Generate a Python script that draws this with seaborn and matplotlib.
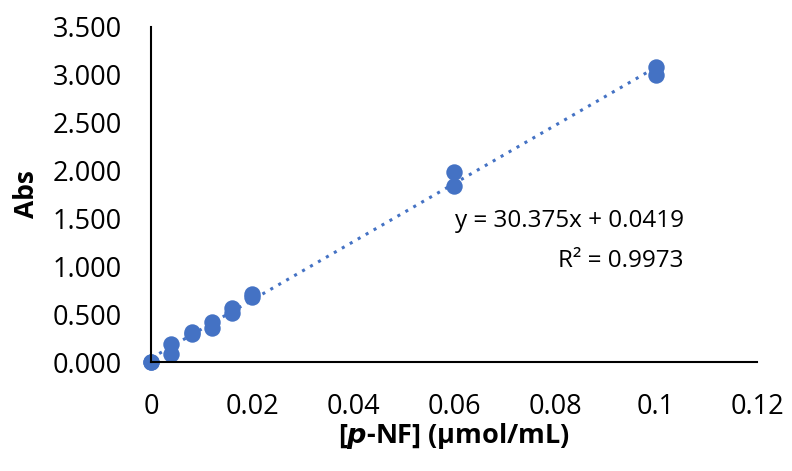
import numpy as np
import pandas as pd
import matplotlib
matplotlib.use("Agg")
import matplotlib.pyplot as plt
import seaborn as sns

conc = [0, 0, 0.004, 0.004, 0.008, 0.008, 0.012, 0.012, 0.016, 0.016, 0.02, 0.02, 0.06, 0.06, 0.1, 0.1]
absorb = [0.0, 0.005, 0.09, 0.19, 0.29, 0.31, 0.36, 0.42, 0.51, 0.57, 0.68, 0.71, 1.84, 1.99, 3.00, 3.08]
eq_text = "y = 30.375x + 0.0419"
r2_text = "R² = 0.9973"
xticks = [0, 0.02, 0.04, 0.06, 0.08, 0.1, 0.12]
xticklabels = ["0", "0.02", "0.04", "0.06", "0.08", "0.1", "0.12"]
yticks = [0, 0.5, 1.0, 1.5, 2.0, 2.5, 3.0, 3.5]

sns.set_theme(style="white")
plt.rcParams['font.family'] = ['Open Sans', 'DejaVu Sans']
plt.rcParams['text.color'] = 'black'
plt.rcParams['axes.labelcolor'] = 'black'

df = pd.DataFrame({"conc": conc, "abs": absorb})
color = "#4472C4"

fig = plt.figure(figsize=(7.92, 4.71), dpi=100)
ax = fig.add_axes([0.191, 0.231, 0.765, 0.712])

slope, intercept = np.polyfit(df["conc"], df["abs"], 1)
xl = np.array([0.0, 0.1])
ax.plot(xl, slope * xl + intercept, linestyle=(0, (1, 2)), color=color, linewidth=2.2, zorder=1)
sns.scatterplot(data=df, x="conc", y="abs", ax=ax, color=color, s=140, edgecolor=color, linewidth=0, zorder=2, clip_on=False)

ax.set_xlim(0, 0.12)
ax.set_ylim(0, 3.5)
ax.set_xticks(xticks)
ax.set_xticklabels(xticklabels)
ax.set_yticks(yticks)
ax.set_yticklabels([f"{v:.3f}" for v in yticks])
ax.tick_params(axis='both', direction='in', length=7, width=1.5, color='black', labelsize=19.5, labelcolor='black')
ax.tick_params(axis='x', pad=22)
ax.tick_params(axis='y', pad=21)
for side in ['top', 'right']:
    ax.spines[side].set_visible(False)
for side in ['left', 'bottom']:
    ax.spines[side].set_color('black')
    ax.spines[side].set_linewidth(1.5)

ax.set_xlabel(r"[$\bfit{p}$-NF] (μmol/mL)", fontsize=19.5, fontweight='bold', labelpad=0, color='black')
ax.set_ylabel("Abs", fontsize=19, fontweight='bold', labelpad=9, color='black')

ax.text(0.1055, 1.41, eq_text, ha='right', va='baseline', fontsize=17.5, color='black')
ax.text(0.1055, 0.99, r2_text, ha='right', va='baseline', fontsize=17.5, color='black')

fig.savefig("out.png", dpi=100)
